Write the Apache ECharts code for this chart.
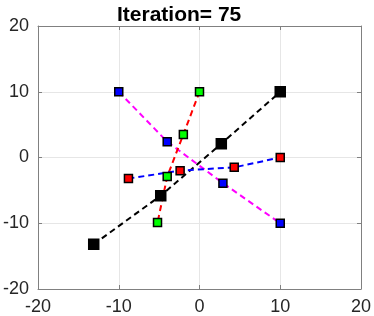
<!DOCTYPE html>
<html><head><meta charset="utf-8">
<script src="https://cdn.jsdelivr.net/npm/echarts@6/dist/echarts.min.js"></script>
<style>html,body{margin:0;padding:0;background:#fff}#c{width:374px;height:316px}</style>
</head><body><div id="c"></div>
<script>
const titleText = "Iteration= 75";
const axisTicks = [-20, -10, 0, 10, 20];
// black line, black markers
const blackX = [-13.1, -4.8, 2.7, 10];
const blackY = [-13.2, -5.8, 2.1, 10];
// magenta line, blue markers
const magentaX = [-10, -4.0, 2.9, 10];
const magentaY = [10, 2.4, -3.9, -10];
// red line, green markers
const redX = [0, -2.0, -4.0, -5.2];
const redY = [10, 3.5, -2.9, -9.9];
// blue line, red markers
const blueX = [-8.8, -2.4, 4.3, 10];
const blueY = [-3.2, -2.0, -1.5, 0];

const zip = (xs, ys) => xs.map((x, i) => [x, ys[i]]);
const groups = [
  {xs: blackX, ys: blackY, line: '#000000', fill: '#000000', size: 10},
  {xs: magentaX, ys: magentaY, line: '#ff00ff', fill: '#0000ff', size: 8},
  {xs: redX, ys: redY, line: '#ff0000', fill: '#00ff00', size: 8},
  {xs: blueX, ys: blueY, line: '#0000ff', fill: '#ff0000', size: 8}
];
const series = [];
groups.forEach(g => {
  series.push({type: 'line', data: zip(g.xs, g.ys), showSymbol: false, symbol: 'none', z: 2,
    lineStyle: {color: g.line, width: 2, type: [6, 4]}, silent: true, animation: false});
});
groups.forEach(g => {
  series.push({type: 'scatter', data: zip(g.xs, g.ys), symbol: 'rect', symbolSize: g.size, z: 3,
    itemStyle: {color: g.fill, borderColor: '#000', borderWidth: 1.5, opacity: 1}, animation: false});
});
const tickMin = axisTicks[0], tickMax = axisTicks[axisTicks.length - 1];
const step = axisTicks[1] - axisTicks[0];
const lbl = {color: '#262626', fontSize: 18, fontFamily: 'Liberation Sans, Arial, sans-serif'};
const axLine = {show: true, onZero: false, lineStyle: {color: '#808080', width: 1}};
const tick = {show: true, inside: true, length: 4, lineStyle: {color: '#808080'}};
const chart = echarts.init(document.getElementById('c'), null, {renderer: 'canvas'});
chart.setOption({
  animation: false,
  title: {text: titleText, left: 112, top: 0,
    textStyle: {fontSize: 21, fontWeight: 'bold', color: '#000', fontFamily: 'Liberation Sans, Arial, sans-serif'}},
  grid: {left: 37, right: 12, top: 26, bottom: 26, containLabel: false},
  xAxis: [
    {type: 'value', min: tickMin, max: tickMax, interval: step, axisLine: axLine, axisTick: tick,
     axisLabel: Object.assign({margin: 9}, lbl),
     splitLine: {show: true, lineStyle: {color: '#e6e6e6', width: 1}}},
    {type: 'value', position: 'top', min: tickMin, max: tickMax, interval: step, axisLine: axLine, axisTick: tick,
     axisLabel: {show: false}, splitLine: {show: false}}
  ],
  yAxis: [
    {type: 'value', min: tickMin, max: tickMax, interval: step, axisLine: axLine, axisTick: tick,
     axisLabel: Object.assign({margin: 9}, lbl),
     splitLine: {show: true, lineStyle: {color: '#e6e6e6', width: 1}}},
    {type: 'value', position: 'right', min: tickMin, max: tickMax, interval: step, axisLine: axLine, axisTick: tick,
     axisLabel: {show: false}, splitLine: {show: false}}
  ],
  series: series
});
</script></body></html>
